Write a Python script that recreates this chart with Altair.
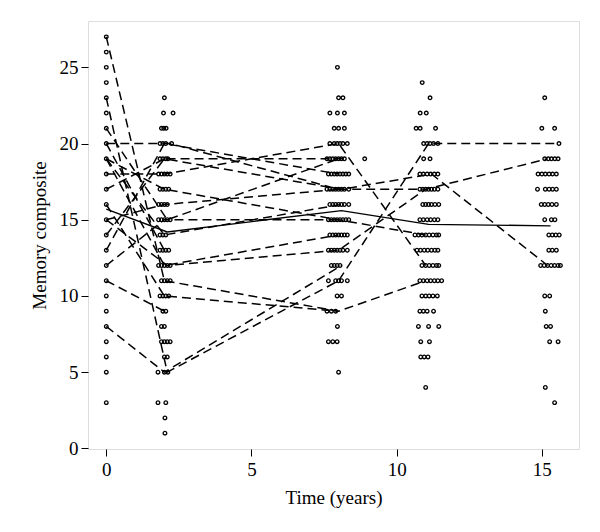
import altair as alt
import pandas as pd

# ---- scatter points: value -> list of (jittered) times, per visit ----
visit0 = {27: [0], 26: [0], 25: [0], 24: [0], 23: [0], 22: [0], 21: [0], 20: [0],
          19: [0], 18: [0], 17: [0], 16: [0], 15: [0], 14: [0], 13: [0], 12: [0],
          11: [0], 10: [0], 9: [0], 8: [0], 7: [0], 6: [0], 5: [0], 3: [0]}
visit2 = {23: [2.0], 22: [1.97, 2.3], 21: [1.9, 1.98, 2.06], 20: [1.85, 1.95, 2.05, 2.25],
          19: [1.85, 1.95, 2.05, 2.12], 18: [1.8, 1.9, 2.0, 2.1, 2.2], 17: [1.85, 1.95, 2.05, 2.15],
          16: [1.8, 1.9, 2.0, 2.1], 15: [1.8, 1.9, 2.0, 2.1, 2.2], 14: [1.85, 1.95, 2.05],
          13: [1.85, 1.95, 2.05, 2.15], 12: [1.8, 1.9, 2.0, 2.1, 2.2], 11: [1.9, 2.0, 2.1, 2.2],
          10: [1.85, 1.95, 2.05, 2.15], 9: [1.95, 2.05], 8: [1.9, 2.0], 7: [1.9, 2.0, 2.1, 2.2],
          6: [2.0, 2.1], 5: [1.78, 2.0, 2.12], 3: [1.78, 2.05], 2: [2.02], 1: [2.02]}
visit8 = {25: [7.96], 23: [8.0, 8.15], 22: [7.7, 7.96, 8.2], 21: [7.85, 8.0, 8.2],
          20: [7.7, 7.85, 7.95, 8.05, 8.15, 8.3], 19: [7.6, 7.7, 7.8, 7.9, 8.0, 8.1, 8.2, 8.9],
          18: [7.65, 7.75, 7.85, 7.95, 8.05, 8.15, 8.25, 8.35], 17: [7.6, 7.7, 7.8, 7.9, 8.0, 8.1, 8.2, 8.35],
          16: [7.7, 7.8, 7.9, 8.0, 8.1, 8.2, 8.35], 15: [7.65, 7.75, 7.85, 7.95, 8.05, 8.15, 8.25, 8.35],
          14: [7.7, 7.8, 7.9, 8.0, 8.1, 8.2, 8.3], 13: [7.65, 7.75, 7.85, 7.95, 8.05, 8.15, 8.3],
          12: [7.75, 7.85, 7.95, 8.05], 11: [7.65, 7.9, 8.0, 8.1, 8.3], 10: [7.95, 8.1],
          9: [7.6, 7.75, 7.9], 8: [7.96], 7: [7.65, 7.8, 7.95], 5: [8.0]}
visit11 = {24: [10.88], 23: [11.15], 22: [10.81, 11.02], 21: [10.67, 10.81, 11.34],
           20: [10.93, 11.05, 11.15, 11.27, 11.42], 19: [10.93, 11.15],
           18: [10.8, 10.92, 11.05, 11.17, 11.3, 11.42], 17: [10.8, 10.9, 11.0, 11.1, 11.2, 11.3, 11.42],
           16: [10.9, 11.0, 11.1, 11.2, 11.32, 11.45], 15: [10.8, 10.92, 11.05, 11.17, 11.3, 11.42],
           14: [10.63, 10.75, 10.87, 11.0, 11.12, 11.25, 11.37, 11.45],
           13: [10.7, 10.82, 10.95, 11.07, 11.2, 11.32, 11.42], 12: [10.87, 11.0, 11.12, 11.25, 11.37, 11.45],
           11: [10.8, 10.92, 11.05, 11.17, 11.3, 11.42, 11.55], 10: [10.87, 11.0, 11.12, 11.25, 11.4],
           9: [10.8, 10.92, 11.05, 11.27], 8: [10.75, 11.1, 11.45], 7: [10.83, 11.13],
           6: [10.83, 10.95, 11.08], 4: [11.0]}
visit15 = {23: [15.1], 21: [15.0, 15.44], 20: [15.59], 19: [15.1, 15.22, 15.33, 15.45, 15.56],
           18: [14.87, 15.0, 15.12, 15.25, 15.37, 15.5], 17: [14.85, 15.12, 15.25, 15.37, 15.5],
           16: [14.98, 15.1, 15.22, 15.35, 15.5], 15: [15.1, 15.33, 15.45],
           14: [15.24, 15.36, 15.48, 15.6], 13: [15.24, 15.36, 15.5],
           12: [14.96, 15.08, 15.2, 15.32, 15.44, 15.56, 15.64], 10: [15.1, 15.27], 9: [15.12],
           8: [15.15, 15.3], 7: [15.27, 15.56], 4: [15.12], 3: [15.44]}

# ---- individual trajectories (dashed) ----
subjects = {
    "A": [(0, 27), (2.0, 11), (8.0, 9), (11.0, 11)],
    "B": [(0, 23), (2.1, 5), (8.0, 11), (11.1, 20), (15.6, 20)],
    "C": [(0, 8), (2.0, 5), (8.1, 12)],
    "D": [(0, 21), (2.1, 15), (8.0, 19)],
    "E": [(0, 20), (2.2, 20), (8.0, 17), (11.0, 17), (15.2, 19)],
    "F": [(0, 19), (2.0, 17), (8.0, 15), (11.0, 14)],
    "G": [(0, 19), (2.0, 14), (8.1, 16)],
    "H": [(0, 18), (2.0, 18), (8.0, 20), (11.0, 12)],
    "I": [(0, 17), (2.0, 19), (8.1, 17), (11.2, 18), (15.2, 12)],
    "J": [(0, 16), (2.0, 10), (8.0, 9)],
    "K": [(0, 15), (2.0, 16), (8.0, 17)],
    "L": [(0, 15), (2.1, 12), (8.0, 13), (11.0, 17)],
    "M": [(0, 14), (2.0, 19), (8.2, 19)],
    "N": [(0, 13), (2.0, 20), (8.0, 18)],
    "O": [(0, 12), (2.0, 15), (8.0, 15)],
    "P": [(0, 11), (2.0, 9)],
    "Q": [(0, 20), (2.0, 13)],
    "R": [(0, 19), (2.0, 12), (8.0, 14)],
}

# ---- mean trajectory (solid) ----
mean_time = [0, 2.1, 8.1, 11.1, 15.3]
mean_value = [15.7, 14.2, 15.6, 14.7, 14.6]

pts = pd.DataFrame([(t, v) for col in (visit0, visit2, visit8, visit11, visit15)
                    for v, ts in col.items() for t in ts], columns=["time", "value"])
traj = pd.DataFrame([(k, i, t, v) for k, seq in subjects.items() for i, (t, v) in enumerate(seq)],
                    columns=["id", "order", "time", "value"])
mean_df = pd.DataFrame({"time": mean_time, "value": mean_value, "order": range(len(mean_time))})

FONT = "Liberation Serif"
xscale = alt.Scale(domain=[-0.63, 16.28], nice=False, zero=False)
yscale = alt.Scale(domain=[-0.04, 28.04], nice=False, zero=False)
xaxis = alt.Axis(values=[0, 5, 10, 15], title="Time (years)", grid=False, domain=False,
                 tickSize=7, tickColor="black", labelColor="black", labelFont=FONT, labelFontSize=19,
                 titleFont=FONT, titleFontSize=19, titleFontWeight="normal", titleColor="black",
                 labelPadding=4, titlePadding=9, format="d")
yaxis = alt.Axis(values=[0, 5, 10, 15, 20, 25], title="Memory composite", grid=False, domain=False,
                 tickSize=7, tickColor="black", labelColor="black", labelFont=FONT, labelFontSize=19,
                 titleFont=FONT, titleFontSize=19, titleFontWeight="normal", titleColor="black",
                 labelPadding=3, titlePadding=10, format="d")

lines = alt.Chart(traj).mark_line(color="black", strokeWidth=1.5, strokeDash=[9, 5]).encode(
    x=alt.X("time:Q", scale=xscale, axis=xaxis),
    y=alt.Y("value:Q", scale=yscale, axis=yaxis),
    detail="id:N", order="order:Q")
mean_line = alt.Chart(mean_df).mark_line(color="black", strokeWidth=1.4).encode(
    x=alt.X("time:Q", scale=xscale), y=alt.Y("value:Q", scale=yscale), order="order:Q")
points = alt.Chart(pts).mark_point(shape="circle", filled=False, color="black", size=13,
                                   strokeWidth=1.3, opacity=1).encode(
    x=alt.X("time:Q", scale=xscale), y=alt.Y("value:Q", scale=yscale))

chart = alt.layer(points, lines, mean_line).properties(
    width=491, height=428,
    autosize=alt.AutoSizeParams(type="none"),
    padding={"left": 80, "top": 13, "right": 13, "bottom": 75},
).configure_view(stroke="black", strokeWidth=1.4).configure(background="white")

chart.save("out.html", embed_options={"renderer": "svg", "actions": False})
